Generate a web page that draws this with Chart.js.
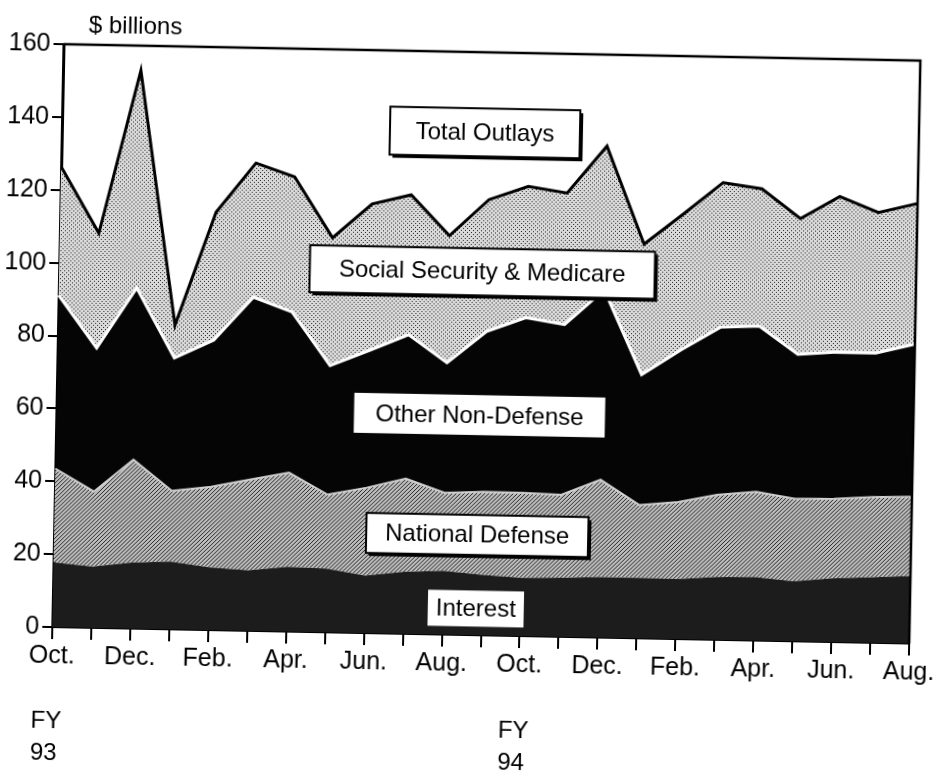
<!DOCTYPE html>
<html><head><meta charset="utf-8">
<script src="https://cdn.jsdelivr.net/npm/chart.js@4/dist/chart.umd.min.js"></script>
<style>
html,body{margin:0;padding:0;background:#fff;overflow:hidden;width:935px;height:774px;}
#wrap{width:960px;height:774px;transform:rotate(1.1deg);transform-origin:467.5px 387px;}
canvas{display:block;}
</style></head><body>
<div id="wrap"><canvas id="c" width="960" height="774"></canvas></div>
<script>
// ---- data ($ billions, monthly, Oct FY93 .. Aug FY94) ----
const months = ['Oct.','Nov.','Dec.','Jan.','Feb.','Mar.','Apr.','May','Jun.','Jul.','Aug.','Sep.',
                'Oct.','Nov.','Dec.','Jan.','Feb.','Mar.','Apr.','May','Jun.','Jul.','Aug.'];
const interest        = [17.8,16.8,18.1,18.6,17.2,16.6,17.8,17.5,15.8,17.0,17.5,16.6,16.0,16.2,16.6,16.6,16.5,17.2,17.4,16.5,17.5,18.0,18.5];
const nationalDefense = [25.7,20.6,28.3,19.4,22.1,24.9,25.8,20.3,24.1,25.6,21.4,22.8,23.3,22.8,26.7,20.0,21.1,22.6,23.4,22.6,21.8,22.0,21.8];
const otherNonDefense = [47.6,39.4,47.1,36.5,40.3,50.1,44.1,35.4,37.7,39.5,35.7,44.0,48.1,46.7,52.2,35.8,41.8,46.0,45.5,39.7,40.3,39.5,41.9];
const ssMedicare      = [35.3,31.5,59.7, 9.0,35.1,36.8,37.1,35.1,40.2,38.4,34.9,36.2,36.0,36.1,39.4,35.8,37.3,39.7,37.7,37.2,42.7,38.6,38.6];
const seriesNames = ['Interest','National Defense','Other Non-Defense','Social Security & Medicare','Total Outlays'];
const fiscalYears = ['93','94'];
const fiscalYearStart = [0, 12];
const yAxisTitle = '$ billions';

const FONT = '"Liberation Sans", Arial, Helvetica, sans-serif';
const canvas = document.getElementById('c');
const ctx = canvas.getContext('2d');

function makePattern(bg, fg, pts, size){
  const t = document.createElement('canvas'); t.width = size; t.height = size;
  const g = t.getContext('2d');
  g.fillStyle = bg; g.fillRect(0,0,size,size);
  g.fillStyle = fg; pts.forEach(p => g.fillRect(p[0], p[1], 1, 1));
  return ctx.createPattern(t, 'repeat');
}
const dotPattern = makePattern('#dadada', '#202020', [[0,0],[2,2]], 4);
const hatchPattern = makePattern('#bdbdbd', '#262626', [[0,3],[1,2],[2,1],[3,0]], 4);

// annotation boxes: [text, category position, value, width, height, border]
const boxes = [
  [seriesNames[4], 10.86, 138.0, 190, 48, true],
  [seriesNames[3], 10.86, 99.7, 345, 47, true],
  [seriesNames[2], 10.86, 60.4, 251, 40, false],
  [seriesNames[1], 10.86, 27.5, 222, 40, true],
  [seriesNames[0], 10.86, 7.3, 96, 36, false]
];

const overlay = {
  id: 'overlay',
  afterDraw(chart){
    const c = chart.ctx, a = chart.chartArea, xs = chart.scales.x, ys = chart.scales.y;
    c.save();
    // frame top and right
    c.strokeStyle = '#000'; c.lineWidth = 2.5;
    c.beginPath();
    c.moveTo(a.left, a.top); c.lineTo(a.right, a.top); c.lineTo(a.right, a.bottom);
    c.stroke();
    // labels in boxes
    c.font = '24px ' + FONT; c.textAlign = 'center'; c.textBaseline = 'middle';
    boxes.forEach(b => {
      const cx = xs.getPixelForValue(b[1]), cy = ys.getPixelForValue(b[2]);
      const w = b[3], h = b[4], x0 = cx - w/2, y0 = cy - h/2;
      if (b[5]) { c.fillStyle = '#000'; c.fillRect(x0 + 3, y0 + 3, w, h); }
      c.fillStyle = '#fff'; c.fillRect(x0, y0, w, h);
      if (b[5]) { c.strokeStyle = '#000'; c.lineWidth = 2; c.strokeRect(x0, y0, w, h); }
      c.fillStyle = '#000'; c.fillText(b[0], cx, cy + 1);
    });
    // axis title
    c.textAlign = 'left'; c.textBaseline = 'alphabetic';
    c.font = '24px ' + FONT;
    c.fillText(yAxisTitle, 82, 40);
    // fiscal year labels
    fiscalYears.forEach((fy, i) => {
      const x = xs.getPixelForValue(fiscalYearStart[i]) - 20;
      const yOff = i === 0 ? 0 : 1;
      c.fillText('FY', x, 736 + yOff);
      c.fillText(fy, x, 768 + yOff);
    });
    c.restore();
  }
};

const chart = new Chart(ctx, {
  type: 'line',
  data: {
    labels: months,
    datasets: [
      { label: seriesNames[0], data: interest, fill: 'origin', backgroundColor: '#1c1c1c', borderColor: 'rgba(0,0,0,0)', borderWidth: 0 },
      { label: seriesNames[1], data: nationalDefense, fill: '-1', backgroundColor: hatchPattern, borderColor: '#d0d0d0', borderWidth: 2 },
      { label: seriesNames[2], data: otherNonDefense, fill: '-1', backgroundColor: '#050505', borderColor: '#ffffff', borderWidth: 3 },
      { label: seriesNames[3], data: ssMedicare, fill: '-1', backgroundColor: dotPattern, borderColor: '#000000', borderWidth: 3 }
    ]
  },
  options: {
    responsive: false,
    devicePixelRatio: 1,
    animation: false,
    elements: { point: { radius: 0 }, line: { tension: 0, borderJoinStyle: 'miter' } },
    layout: { padding: { top: 52, right: 46, left: 0, bottom: 0 } },
    plugins: { legend: { display: false }, tooltip: { enabled: false } },
    scales: {
      x: {
        offset: false,
        grid: { drawOnChartArea: false, drawTicks: true, tickLength: 12, color: '#000', lineWidth: 2 },
        border: { display: true, color: '#000', width: 2 },
        ticks: {
          autoSkip: false, maxRotation: 0, minRotation: 0, padding: 2,
          color: '#000', font: { family: FONT, size: 25 },
          callback: (v, i) => (i % 2 === 0 ? months[i] : '')
        },
        afterFit: s => { s.height = 139; s.paddingLeft = 0; s.paddingRight = 0; }
      },
      y: {
        stacked: true, min: 0, max: 160,
        grid: { drawOnChartArea: false, drawTicks: true, tickLength: 10, color: '#000', lineWidth: 2 },
        border: { display: true, color: '#000', width: 3 },
        ticks: { stepSize: 20, padding: 3, color: '#000', font: { family: FONT, size: 25 } },
        afterFit: s => { s.width = 57; }
      }
    }
  },
  plugins: [overlay]
});
</script>
</body></html>
